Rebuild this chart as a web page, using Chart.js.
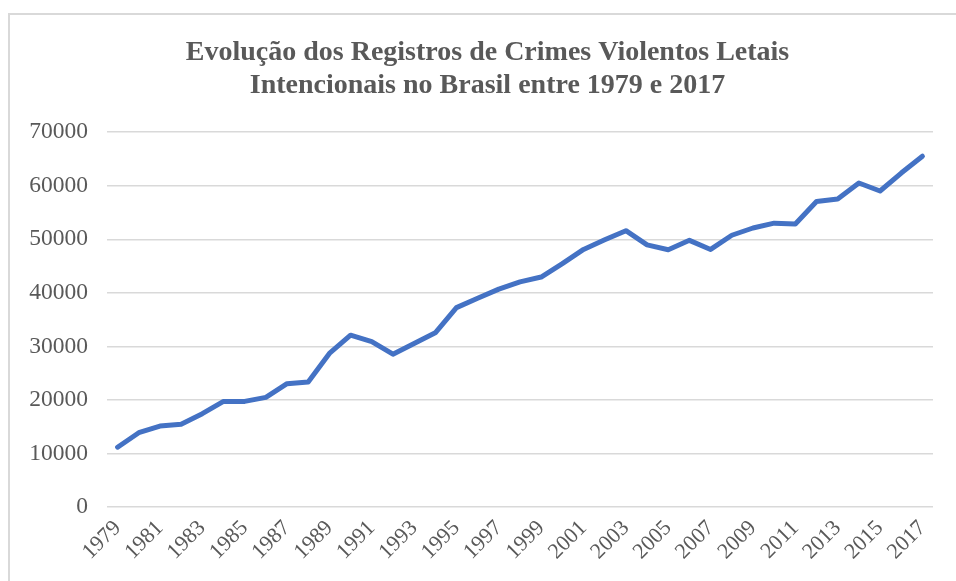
<!DOCTYPE html>
<html>
<head>
<meta charset="utf-8">
<script src="https://cdn.jsdelivr.net/npm/chart.js@4/dist/chart.umd.min.js"></script>
<style>
  html, body { margin: 0; padding: 0; background: #ffffff; }
  #wrap { position: relative; width: 956px; height: 581px; overflow: hidden; }
  #frame { position: absolute; left: 8px; top: 13px; width: 1000px; height: 620px;
           border-top: 2px solid #d9d9d9; border-left: 2px solid #d9d9d9; box-sizing: border-box; }
  canvas { position: absolute; left: 0; top: 0; }
</style>
</head>
<body>
<div id="wrap">
  <div id="frame"></div>
  <canvas id="c" width="956" height="581"></canvas>
</div>
<script>
const years = ["1979","1980","1981","1982","1983","1984","1985","1986","1987","1988",
  "1989","1990","1991","1992","1993","1994","1995","1996","1997","1998",
  "1999","2000","2001","2002","2003","2004","2005","2006","2007","2008",
  "2009","2010","2011","2012","2013","2014","2015","2016","2017"];
const registros = [11200,13900,15150,15500,17450,19750,19750,20500,23050,23350,
  28700,32100,30900,28550,30550,32550,37250,39000,40700,42050,
  42950,45450,48100,49900,51600,48950,48050,49800,48100,50750,
  52100,53000,52850,57050,57500,60500,59000,62350,65500];
const titleLines = ["Evolução dos Registros de Crimes Violentos Letais",
  "Intencionais no Brasil entre 1979 e 2017"];
const yMin = 0, yMax = 70000, yStep = 10000;

const serif = "'Liberation Serif', 'Times New Roman', serif";

// shift the title block slightly right to match the reference centring
const titleShift = {
  id: 'titleShift',
  afterLayout(chart) {
    if (chart.titleBlock) { chart.titleBlock.left += 8; chart.titleBlock.right += 8; }
  }
};

new Chart(document.getElementById('c'), {
  type: 'line',
  data: {
    labels: years,
    datasets: [{
      label: 'Registros',
      data: registros,
      borderColor: '#4472C4',
      backgroundColor: '#4472C4',
      borderWidth: 5,
      pointRadius: 0,
      tension: 0,
      borderJoinStyle: 'round',
      borderCapStyle: 'round'
    }]
  },
  plugins: [titleShift],
  options: {
    responsive: false,
    animation: false,
    layout: { padding: { left: 26, right: 23, top: 36, bottom: 8 } },
    plugins: {
      legend: { display: false },
      tooltip: { enabled: false },
      title: {
        display: true,
        text: titleLines,
        color: '#595959',
        font: { family: serif, size: 28, weight: 'bold', lineHeight: 1.18 },
        padding: { top: 0, bottom: 30 }
      }
    },
    scales: {
      x: {
        offset: true,
        grid: { display: false, drawTicks: false },
        border: { display: false },
        ticks: {
          autoSkip: false,
          minRotation: 45,
          maxRotation: 45,
          padding: 8,
          color: '#595959',
          font: { family: serif, size: 22 },
          callback: function(v, i) { return i % 2 === 0 ? years[i] : ''; }
        }
      },
      y: {
        min: yMin,
        max: yMax,
        afterFit: function(s) { s.width = 81; },
        grid: { color: '#d9d9d9', lineWidth: 1.5, drawTicks: false },
        border: { display: false },
        ticks: {
          stepSize: yStep,
          padding: 19,
          color: '#595959',
          font: { family: serif, size: 23.5 },
          callback: function(v) { return String(v); }
        }
      }
    }
  }
});
</script>
</body>
</html>
